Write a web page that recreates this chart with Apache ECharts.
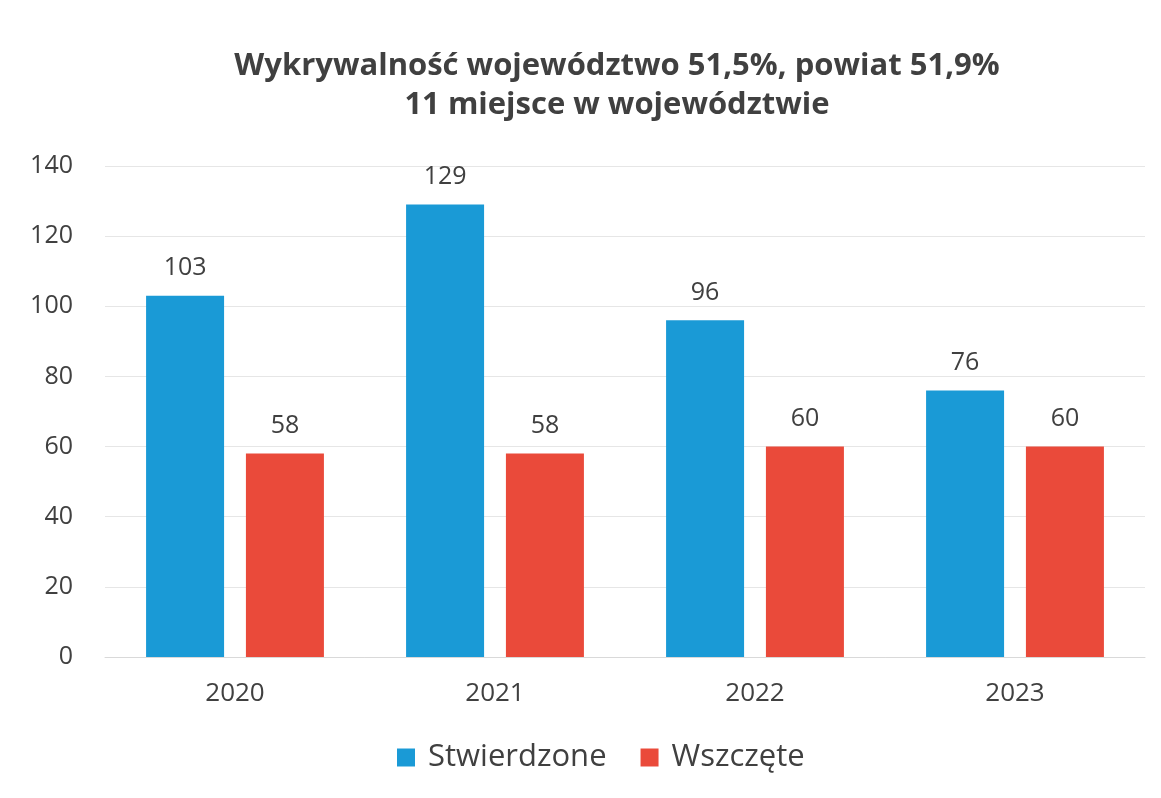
<!DOCTYPE html>
<html>
<head>
<meta charset="utf-8">
<script src="https://cdn.jsdelivr.net/npm/echarts@6/dist/echarts.min.js"></script>
<style>
  html, body { margin: 0; padding: 0; background: #fff; }
  #chart { width: 1161px; height: 798px; }
</style>
</head>
<body>
<div id="chart"></div>
<script>
const years = ['2020', '2021', '2022', '2023']
const stwierdzone = [103, 129, 96, 76]
const wszczete = [58, 58, 60, 60]
const yTicks = { min: 0, max: 140, interval: 20 }

const chart = echarts.init(document.getElementById('chart'))

const labelStyle = {
  show: true,
  position: 'top',
  distance: 15,
  color: '#404040',
  fontSize: 25,
  fontFamily: 'Open Sans'
}

chart.setOption({
  title: {
    text: 'Wykrywalność województwo 51,5%, powiat 51,9%\n11 miejsce w województwie',
    left: 612,
    textAlign: 'center',
    top: 42,
    textStyle: {
      color: '#404040',
      fontSize: 31,
      fontWeight: 'bold',
      fontFamily: 'Open Sans',
      lineHeight: 39
    }
  },
  legend: {
    bottom: 20,
    left: 392,
    itemWidth: 18,
    itemHeight: 18,
    itemGap: 34,
    icon: 'rect',
    textStyle: { color: '#404040', fontSize: 31, fontFamily: 'Open Sans', padding: [0, 0, 0, 8] }
  },
  grid: { left: 105, right: 16, top: 166, bottom: 141 },
  xAxis: {
    type: 'category',
    data: years,
    axisTick: { show: false },
    axisLine: { lineStyle: { color: '#d9d9d9' } },
    axisLabel: { color: '#404040', fontSize: 26, fontFamily: 'Open Sans', margin: 24 }
  },
  yAxis: {
    type: 'value',
    min: yTicks.min,
    max: yTicks.max,
    interval: yTicks.interval,
    axisLine: { show: false },
    axisTick: { show: false },
    splitLine: { lineStyle: { color: '#e6e6e6' } },
    axisLabel: { color: '#404040', fontSize: 25, fontFamily: 'Open Sans', margin: 32 }
  },
  series: [
    {
      name: 'Stwierdzone',
      type: 'bar',
      data: stwierdzone,
      barWidth: '30%',
      barGap: '28%',
      itemStyle: { color: '#1a9ad6' },
      label: labelStyle
    },
    {
      name: 'Wszczęte',
      type: 'bar',
      data: wszczete,
      barWidth: '30%',
      itemStyle: { color: '#ea4a3a' },
      label: labelStyle
    }
  ]
})
</script>
</body>
</html>
